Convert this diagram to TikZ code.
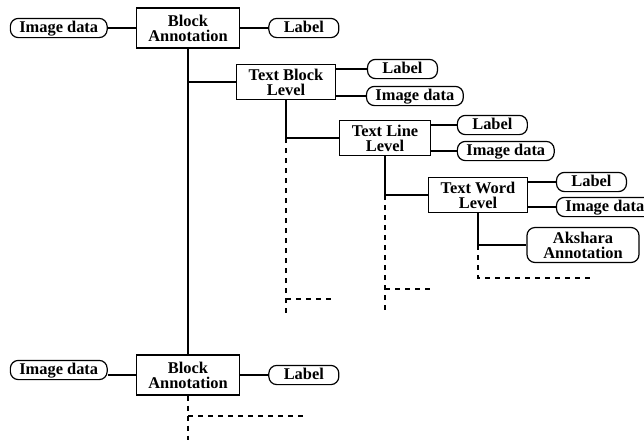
\documentclass[tikz,border=0pt]{standalone}
\usepackage{fontspec}
\setmainfont{Liberation Serif}
\usetikzlibrary{positioning}

\begin{document}
\begin{tikzpicture}[
  x=0.5pt,y=-0.5pt,
  node distance=14pt,
  font=\fontsize{8.2}{7.6}\selectfont\bfseries,
  level/.style={draw,line width=0.6pt,align=center,inner xsep=6pt,inner ysep=1pt,minimum height=17.5pt},
  pill/.style={draw,line width=0.6pt,rounded corners=4pt,align=center,inner ysep=1pt},
  leaf/.style={pill,inner xsep=4.5pt,minimum width=35pt,minimum height=9.5pt,text height=5.8pt,text depth=1.8pt},
  note/.style={pill,minimum width=56pt,minimum height=17.5pt},
  link/.style={line width=0.6pt},
  more/.style={line width=0.6pt,dash pattern=on 2.5pt off 2.5pt}
]
\useasboundingbox (0,0) rectangle (644,441);

% top block
\node[level,minimum height=20pt] (blk) at (188,28) {Block\\Annotation};
\node[leaf,left=of blk] (blkImg) {Image data};
\node[leaf,right=of blk] (blkLab) {Label};

% nested levels
\node[level] (tbl) at (286,82) {Text Block\\Level};
\node[leaf,right=15.5pt of tbl.east,yshift=6.5pt] (tblLab) {Label};
\node[leaf,right=15pt of tbl.east,yshift=-7pt] (tblImg) {Image data};

\node[level] (tln) at (385,138) {Text Line\\Level};
\node[leaf,right=13pt of tln.east,yshift=6.5pt] (tlnLab) {Label};
\node[leaf,right=13pt of tln.east,yshift=-6.5pt] (tlnImg) {Image data};

\node[level] (twd) at (478,195) {Text Word\\Level};
\node[leaf,right=14pt of twd.east,yshift=6.5pt] (twdLab) {Label};
\node[leaf,right=14pt of twd.east,yshift=-6pt] (twdImg) {Image data};
\node[note] (aks) at (583,245) {Akshara\\Annotation};

% bottom block
\node[level,minimum height=20pt] (blk2) at (188,375) {Block\\Annotation};
\node[leaf,left=of blk2,yshift=2.5pt] (blk2Img) {Image data};
\node[leaf,right=of blk2] (blk2Lab) {Label};

% stub ends
\coordinate (tblFork) at (tbl.south |- 0,299);
\coordinate (tblMore) at (333,299);
\coordinate (tblEnd) at (tbl.south |- 0,317);
\coordinate (tlnFork) at (tln.south |- 0,289);
\coordinate (tlnMore) at (431,289);
\coordinate (tlnEnd) at (tln.south |- 0,310);
\coordinate (twdMore) at (590,278);
\coordinate (blk2Fork) at (blk2.south |- 0,416);
\coordinate (blk2More) at (305,416);
\coordinate (blk2End) at (blk2.south |- 0,440);

% solid links
\draw[link] (blkImg) -- (blk) -- (blkLab);
\draw[link] (blk) -- (blk2);
\draw[link] (blk.south |- tbl.west) -- (tbl.west);
\draw[link] (tblLab.west -| tbl.east) -- (tblLab.west);
\draw[link] (tblImg.west -| tbl.east) -- (tblImg.west);
\draw[link] (tbl.south) |- (tln.west);
\draw[link] (tlnLab.west -| tln.east) -- (tlnLab.west);
\draw[link] (tlnImg.west -| tln.east) -- (tlnImg.west);
\draw[link] (tln.south) |- (twd.west);
\draw[link] (twdLab.west -| twd.east) -- (twdLab.west);
\draw[link] (twdImg.west -| twd.east) -- (twdImg.west);
\draw[link] (twd.south) |- (aks.west);
\draw[link] (blk2.west) -- (blk2.west -| blk2Img.east);
\draw[link] (blk2) -- (blk2Lab);

% dashed continuations
\draw[more] (tbl.south |- tln.west) -- (tblEnd);
\draw[more] (tblFork) -- (tblMore);
\draw[more] (tln.south |- twd.west) -- (tlnEnd);
\draw[more] (tlnFork) -- (tlnMore);
\draw[more] (twd.south |- aks.west) |- (twdMore);
\draw[more] (blk2.south) -- (blk2End);
\draw[more] (blk2Fork) -- (blk2More);
\end{tikzpicture}
\end{document}
